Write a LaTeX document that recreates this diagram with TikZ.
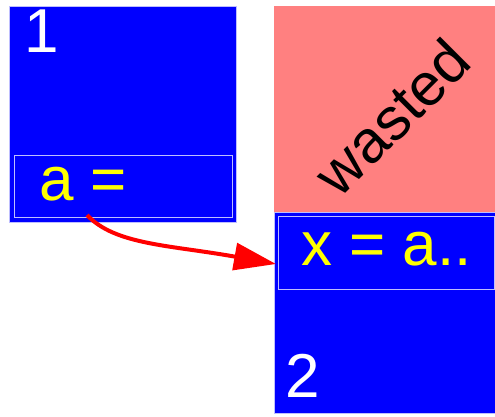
\documentclass[tikz,border=0pt]{standalone}
\usepackage{fontspec}
\setmainfont{Liberation Sans}
\usetikzlibrary{arrows.meta}
\definecolor{bluefill}{RGB}{0,0,255}
\definecolor{edgecol}{RGB}{190,190,255}
\definecolor{wastecol}{RGB}{255,128,128}
\definecolor{yel}{RGB}{255,255,0}
\definecolor{arrowred}{RGB}{255,0,0}
\begin{document}
\begin{tikzpicture}[x=1pt,y=-1pt,
  block/.style={fill=bluefill,draw=edgecol,line width=0.8pt},
  inner/.style={draw=edgecol,line width=0.8pt},
  big/.style={font=\fontsize{62}{62}\selectfont,inner sep=0pt,anchor=base west},
  link/.style={draw=arrowred,line width=4pt,-{Triangle[length=42pt,width=27pt]}}]
\useasboundingbox (0,0) rectangle (495,417);
% block 1
\draw[block] (9,6) rectangle (236,222);
\draw[inner] (14,155) rectangle (232,217);
\node[big,text=white] (n1) at (24,53) {1};
\node[big,text=yel] (a) at (39,200) {a =};
% wasted
\fill[wastecol] (274,6) rectangle (495,212);
\node[font=\fontsize{60}{60}\selectfont,inner sep=0pt,rotate=45] (w) at (392,117) {wasted};
% block 2
\draw[block] (274,212) rectangle (497,413);
\draw[inner] (278,216) rectangle (494,289);
\node[big,text=yel] (x) at (301,265) {x = a..};
\node[big,text=white] (n2) at (285,397) {2};
% arrow
\coordinate (s) at (87,215);
\coordinate (e) at (276,264);
\draw[link] (s) .. controls (115,245) and (170,245) .. (e);
\end{tikzpicture}
\end{document}
